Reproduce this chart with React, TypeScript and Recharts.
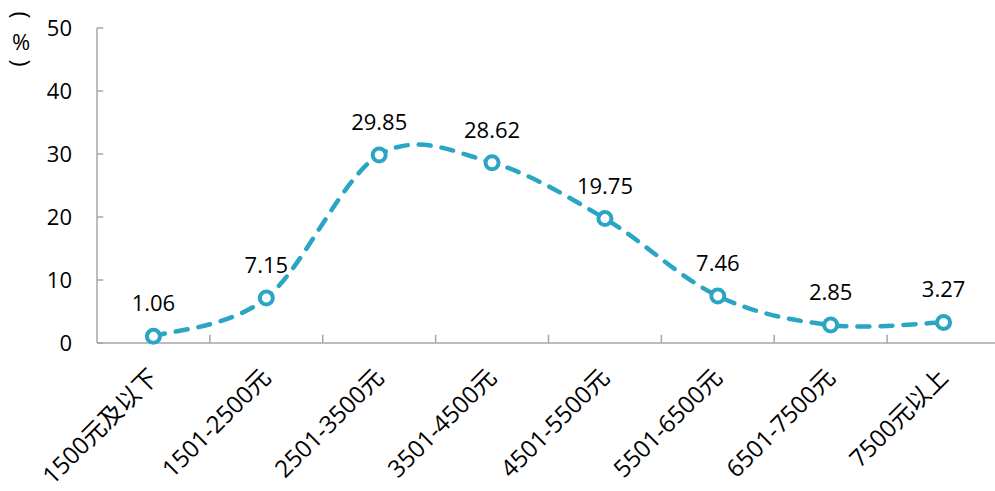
import React from "react";
import { LineChart, Line, XAxis, YAxis, LabelList, ReferenceLine } from "recharts";

const categories = [
  "1500元及以下",
  "1501-2500元",
  "2501-3500元",
  "3501-4500元",
  "4501-5500元",
  "5501-6500元",
  "6501-7500元",
  "7500元以上",
];
const shares = [1.06, 7.15, 29.85, 28.62, 19.75, 7.46, 2.85, 3.27];
const yTicks = [0, 10, 20, 30, 40, 50];
const dividerTicks = [1, 2, 3, 4, 5, 6, 7];

const data = categories.map((name, i) => ({ name, value: shares[i], idx: i + 0.5 }));

const FONT = "'Open Sans', 'Noto Sans CJK SC', sans-serif";
const TEAL = "#2AA6C4";
const AXIS = "#a6a6a6";
// tick mark lengths, in axis units
const X_TICK_LEN = 1.3;
const Y_TICK_LEN = 0.055;

// Excel style smoothing (Catmull-Rom through every point)
function smoothCurve(context: any) {
  let pts: number[][] = [];
  return {
    areaStart() {},
    areaEnd() {},
    lineStart() {
      pts = [];
    },
    point(x: number, y: number) {
      pts.push([+x, +y]);
    },
    lineEnd() {
      if (!pts.length) return;
      context.moveTo(pts[0][0], pts[0][1]);
      for (let i = 0; i < pts.length - 1; i++) {
        const p0 = pts[Math.max(i - 1, 0)];
        const p1 = pts[i];
        const p2 = pts[i + 1];
        const p3 = pts[Math.min(i + 2, pts.length - 1)];
        context.bezierCurveTo(
          p1[0] + (p2[0] - p0[0]) / 6,
          p1[1] + (p2[1] - p0[1]) / 6,
          p2[0] - (p3[0] - p1[0]) / 6,
          p2[1] - (p3[1] - p1[1]) / 6,
          p2[0],
          p2[1]
        );
      }
    },
  };
}

function AngledTick({ x, y, payload }: any) {
  return (
    <text
      x={x + 6}
      y={y}
      transform={`rotate(-45 ${x + 6} ${y})`}
      textAnchor="end"
      fontSize={24}
      fontFamily={FONT}
      fill="#000"
    >
      {payload.value}
    </text>
  );
}

function UnitLabel() {
  return (
    <g fontFamily={FONT} fontSize={24} fill="#000">
      <text x={22} y={15} transform="rotate(90 22 15)" textAnchor="middle" dominantBaseline="central">(</text>
      <text x={21} y={41} textAnchor="middle" dominantBaseline="central" fontSize={22}>%</text>
      <text x={22} y={63} transform="rotate(90 22 63)" textAnchor="middle" dominantBaseline="central">)</text>
    </g>
  );
}

export default function App() {
  return (
    <div style={{ position: "absolute", left: 0, top: 0, width: 995, height: 491, overflow: "hidden", background: "#fff" }}>
      <LineChart width={1000} height={491} data={data} margin={{ top: 28, right: 0, bottom: 0, left: 0 }}>
        {/* numeric helper axis for the tick marks between categories */}
        <XAxis xAxisId={0} dataKey="idx" type="number" domain={[0, 8]} height={0} hide />
        <XAxis
          xAxisId={1}
          dataKey="name"
          scale="band"
          interval={0}
          tickLine={false}
          tickSize={0}
          tickMargin={36}
          height={148}
          stroke={AXIS}
          strokeWidth={1.5}
          tick={<AngledTick />}
        />
        <YAxis
          domain={[0, 50]}
          ticks={yTicks}
          width={97}
          stroke={AXIS}
          strokeWidth={1.5}
          tickLine={false}
          tickSize={0}
          tickMargin={25}
          tick={{ fontSize: 22, fontFamily: FONT, fill: "#000" }}
          label={<UnitLabel />}
        />
        {dividerTicks.map((d) => (
          <ReferenceLine
            key={`xt${d}`}
            xAxisId={0}
            segment={[{ x: d, y: 0 }, { x: d, y: X_TICK_LEN }]}
            stroke={AXIS}
            strokeWidth={1.5}
            ifOverflow="visible"
          />
        ))}
        {yTicks.map((t) => (
          <ReferenceLine
            key={`yt${t}`}
            xAxisId={0}
            segment={[{ x: 0, y: t }, { x: Y_TICK_LEN, y: t }]}
            stroke={AXIS}
            strokeWidth={1.5}
            ifOverflow="visible"
          />
        ))}
        <Line
          xAxisId={1}
          dataKey="value"
          type={smoothCurve as any}
          stroke={TEAL}
          strokeWidth={4.5}
          strokeDasharray="12 11"
          strokeLinecap="round"
          dot={{ r: 6.5, stroke: TEAL, strokeWidth: 4, fill: "#fff", strokeDasharray: "" }}
          isAnimationActive={false}
        >
          <LabelList dataKey="value" position="top" offset={25} fontSize={22} fontFamily={FONT} fill="#000" />
        </Line>
      </LineChart>
    </div>
  );
}
